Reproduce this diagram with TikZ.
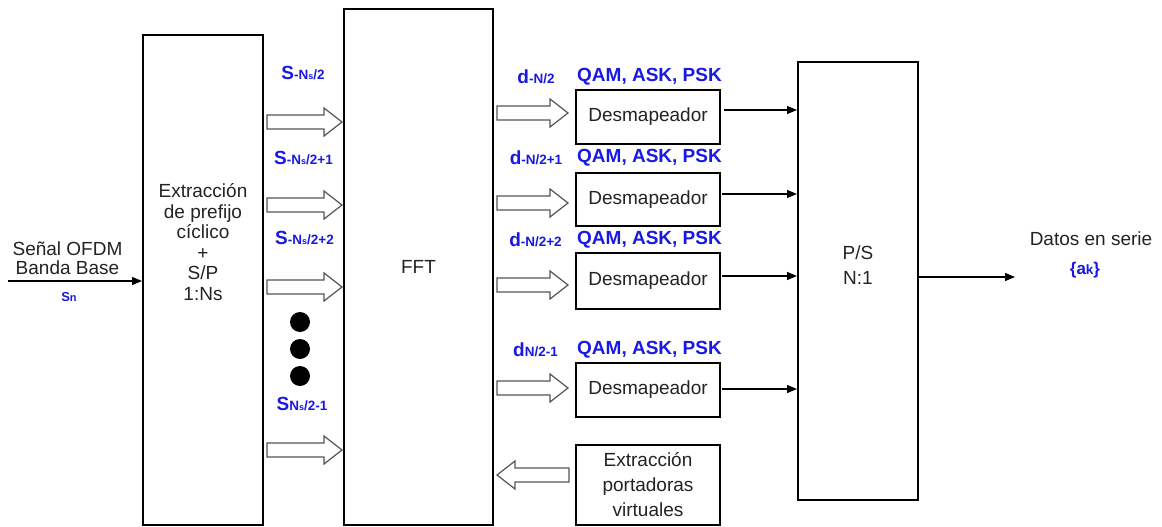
\documentclass[tikz,border=0pt]{standalone}
\usepackage{fontspec}
\setmainfont{Liberation Sans}
\usetikzlibrary{arrows.meta}
\definecolor{lblue}{RGB}{25,25,225}
\definecolor{txtgray}{RGB}{35,35,35}
\definecolor{hgray}{RGB}{85,85,85}
\newcommand\lsub[1]{{\fontsize{13.5}{13.5}\selectfont #1}}
\newcommand\lssub[1]{{\fontsize{9}{9}\selectfont #1}}
\begin{document}
\begin{tikzpicture}[x=1pt,y=-1pt,
  blk/.style={draw=black,line width=2pt,inner sep=0pt},
  txt/.style={font=\fontsize{19}{21}\selectfont,text=txtgray,align=center,inner sep=0pt},
  blab/.style={font=\fontsize{19}{19}\selectfont\bfseries,text=lblue,inner sep=0pt},
  sarrow/.style={line width=1.2pt,-{Triangle[length=10pt,width=8pt]}},
  hollow/.style={draw=hgray,fill=white,line width=1.2pt,line join=miter},
  dot/.style={circle,fill=black,minimum size=20pt,inner sep=0pt},
  pics/harrow/.style={code={\draw[hollow] (0,-7) -- (#1-18,-7) -- (#1-18,-14) -- (#1,0) -- (#1-18,14) -- (#1-18,7) -- (0,7) -- cycle;}}
]
\useasboundingbox[fill=white] (0,0) rectangle (1162,527);

% main blocks
\node[blk,minimum width=120pt,minimum height=490pt] (ext) at (203,280) {};
\node[txt,font=\fontsize{19}{20.5}\selectfont] (exttxt) at (203,242) {Extracción\\de prefijo\\cíclico\\+\\S/P\\1:Ns};
\node[blk,txt,minimum width=149pt,minimum height=516pt] (fft) at (418.5,267) {FFT};
\node[blk,minimum width=120pt,minimum height=438pt] (ps) at (858,281) {};
\node[txt,font=\fontsize{19}{25}\selectfont] (pstxt) at (858,265.5) {P/S\\N:1};

% demappers
\node[blk,txt,minimum width=144pt,minimum height=54pt] (dA) at (648,117) {Desmapeador};
\node[blk,txt,minimum width=144pt,minimum height=53pt] (dB) at (648,199.5) {Desmapeador};
\node[blk,txt,minimum width=144pt,minimum height=56pt] (dC) at (648,281) {Desmapeador};
\node[blk,txt,minimum width=144pt,minimum height=54pt] (dD) at (648,390) {Desmapeador};
\node[blk,txt,font=\fontsize{19}{25}\selectfont,minimum width=144pt,minimum height=80pt] (dE) at (648,485) {Extracción\\portadoras\\virtuales};

% input / output texts
\node[txt,font=\fontsize{19}{19}\selectfont] (intxt) at (67.5,258) {Señal OFDM\\Banda Base};
\node[blab,font=\bfseries] (sn) at (69,297) {{\fontsize{13}{13}\selectfont S}{\fontsize{11}{11}\selectfont n}};
\node[txt] (outtxt) at (1091,239) {Datos en serie};
\node[blab,font=\fontsize{17}{17}\selectfont\bfseries] (ak) at (1085,270) {\{a\lsub{k}\}};

% blue labels left
\node[blab] (s1) at (303,73) {S\lsub{-N\lssub{s}/2}};
\node[blab] (s2) at (303.5,158) {S\lsub{-N\lssub{s}/2+1}};
\node[blab] (s3) at (304.5,238) {S\lsub{-N\lssub{s}/2+2}};
\node[blab] (s4) at (302,404) {S\lsub{N\lssub{s}/2-1}};

% dots
\node[dot] (dot1) at (300,322) {};
\node[dot] (dot2) at (300,349) {};
\node[dot] (dot3) at (300,376) {};

% blue labels right
\node[blab] (d1) at (536,77) {d\lsub{-N/2}};
\node[blab] (d2) at (536,158) {d\lsub{-N/2+1}};
\node[blab] (d3) at (535.5,240) {d\lsub{-N/2+2}};
\node[blab] (d4) at (535.5,350) {d\lsub{N/2-1}};
\node[blab] (q1) at (649.5,77) {QAM, ASK, PSK};
\node[blab] (q2) at (649.5,158) {QAM, ASK, PSK};
\node[blab] (q3) at (649.5,240) {QAM, ASK, PSK};
\node[blab] (q4) at (649.5,350) {QAM, ASK, PSK};

% hollow arrows
\pic at (267,122) {harrow=75};
\pic at (267,205) {harrow=75};
\pic at (267,287) {harrow=75};
\pic at (267,450) {harrow=75};
\pic at (497,113) {harrow=71};
\pic at (497,203) {harrow=71};
\pic at (497,285) {harrow=71};
\pic at (497,388) {harrow=71};
\pic[rotate=180] at (569,475) {harrow=72};

% thin arrows
\coordinate (in) at (8,281);
\draw[sarrow] (in) -- (in -| ext.west);
\coordinate (aA) at (724,110);
\coordinate (aB) at (722,194);
\coordinate (aC) at (722,276);
\coordinate (aD) at (722,389);
\draw[sarrow] (aA) -- (aA -| ps.west);
\draw[sarrow] (aB) -- (aB -| ps.west);
\draw[sarrow] (aC) -- (aC -| ps.west);
\draw[sarrow] (aD) -- (aD -| ps.west);
\coordinate (out) at (1015,277);
\draw[sarrow] (out -| ps.east) -- (out);
\end{tikzpicture}
\end{document}
